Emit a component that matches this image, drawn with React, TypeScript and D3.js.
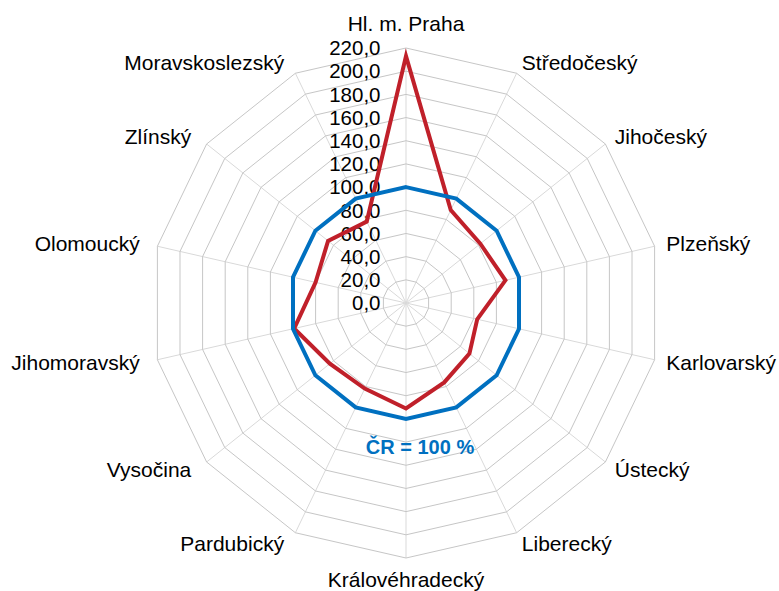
import React from "react";
import * as d3 from "d3";

const categories = [
  "Hl. m. Praha",
  "Středočeský",
  "Jihočeský",
  "Plzeňský",
  "Karlovarský",
  "Ústecký",
  "Liberecký",
  "Královéhradecký",
  "Pardubický",
  "Vysočina",
  "Jihomoravský",
  "Olomoucký",
  "Zlínský",
  "Moravskoslezský",
];

const regionValues = [213, 89, 82, 88, 63, 70, 76, 91, 82, 84, 99, 80, 86, 78];
const crValues = [100, 100, 100, 100, 100, 100, 100, 100, 100, 100, 100, 100, 100, 100];
const tickValues = [0, 20, 40, 60, 80, 100, 120, 140, 160, 180, 200, 220];

const W = 779;
const H = 591;
const CX = 406;
const CY = 303;
const R = 255;
const FONT = "'Liberation Sans', Arial, Helvetica, sans-serif";

export default function App() {
  const r = d3.scaleLinear().domain([0, 220]).range([0, R]);
  const n = categories.length;
  const angle = d3
    .scaleLinear()
    .domain([0, n])
    .range([0, 2 * Math.PI]);

  const pt = (i: number, v: number): [number, number] => {
    const a = angle(i);
    return [CX + r(v) * Math.sin(a), CY - r(v) * Math.cos(a)];
  };

  const ringPath = (v: number) =>
    d3.line()(d3.range(n).map((i) => pt(i, v))) + "Z";

  const seriesLine = (vals: number[]) =>
    d3.line()(vals.map((v, i) => pt(i, v))) + "Z";

  const fmt = (v: number) => d3.format(".1f")(v).replace(".", ",");

  return (
    <svg
      width={W}
      height={H}
      style={{ position: "absolute", left: 0, top: 0, background: "#fff" }}
      fontFamily={FONT}
    >
      {/* spokes */}
      {d3.range(n).map((i) => {
        const [x, y] = pt(i, 220);
        return (
          <line key={"s" + i} x1={CX} y1={CY} x2={x} y2={y} stroke="#d9d9d9" strokeWidth={1} />
        );
      })}
      {/* rings */}
      {tickValues.slice(1).map((v) => (
        <path key={"r" + v} d={ringPath(v)} fill="none" stroke="#c6c6c6" strokeWidth={1} />
      ))}
      {/* tick labels */}
      {tickValues.map((v) => (
        <text
          key={"t" + v}
          x={380.5}
          y={CY - r(v) + 7.3}
          textAnchor="end"
          fontSize={20.5}
          fill="#000"
        >
          {fmt(v)}
        </text>
      ))}
      {/* series */}
      <path
        d={seriesLine(regionValues)}
        fill="none"
        stroke="#c0202a"
        strokeWidth={4}
        strokeLinejoin="miter"
        strokeMiterlimit={10}
      />
      <path
        d={seriesLine(crValues)}
        fill="none"
        stroke="#0070c0"
        strokeWidth={4}
        strokeLinejoin="miter"
      />
      {/* category labels */}
      {categories.map((c, i) => {
        const a = angle(i);
        const s = Math.sin(a);
        const co = Math.cos(a);
        const d = Math.abs(s) < 0.1 ? (co > 0 ? 25 : 21) : 12;
        let x = CX + (R + d) * s;
        const y = CY - (R + d) * co + 7.5;
        let anchor: "start" | "end" | "middle" = "middle";
        if (s > 0.1) anchor = "start";
        else if (s < -0.1) {
          anchor = "end";
          x -= 6;
        }
        return (
          <text key={"c" + i} x={x} y={y} textAnchor={anchor} fontSize={21} fill="#000">
            {c}
          </text>
        );
      })}
      <text
        x={420}
        y={454}
        textAnchor="middle"
        fontSize={20}
        fontWeight="bold"
        fill="#0070c0"
      >
        ČR = 100 %
      </text>
    </svg>
  );
}
